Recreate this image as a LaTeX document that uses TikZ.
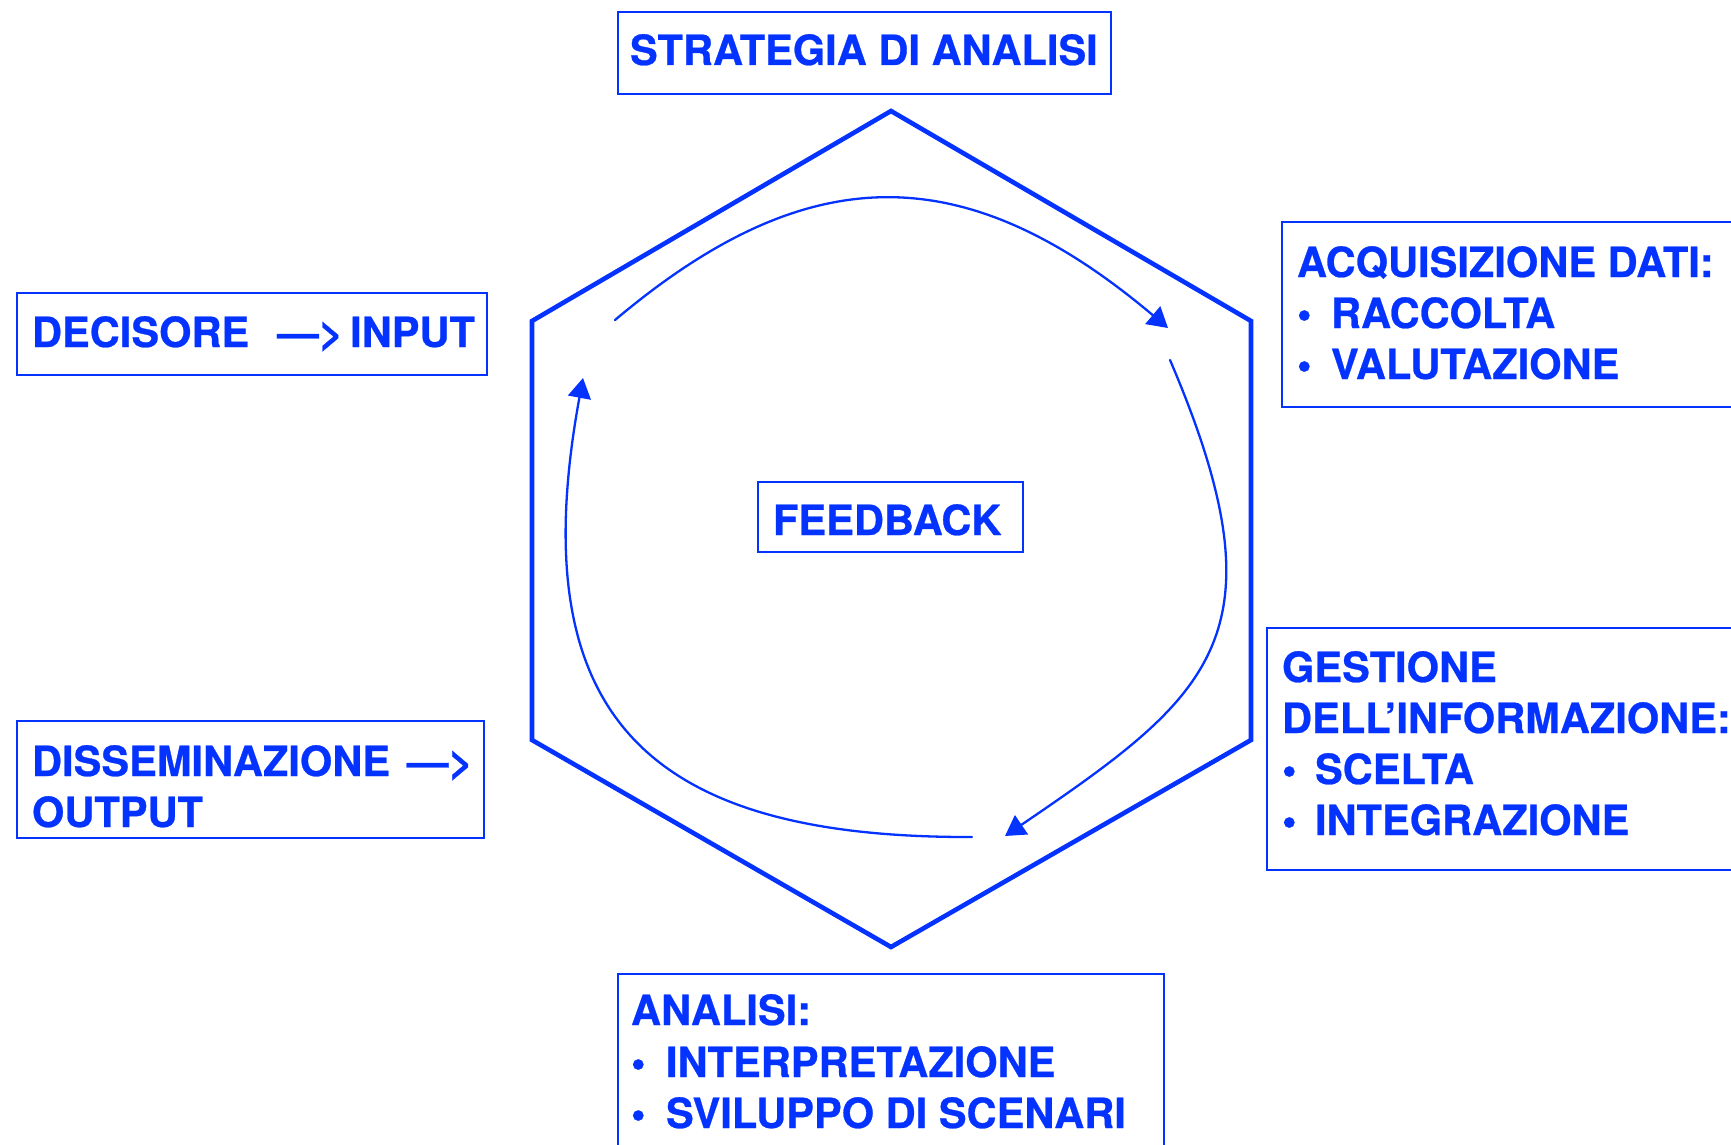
\documentclass[tikz,border=0pt]{standalone}
\usepackage{fontspec}
\setmainfont{TeX Gyre Heros}[BoldFeatures={FakeBold=0.6}]
\usetikzlibrary{arrows.meta}
\definecolor{fb}{RGB}{4,51,255}
\begin{document}
\begin{tikzpicture}[x=1pt,y=-1pt,
  box/.style={draw=fb, line width=2.2pt, rectangle, inner sep=0pt, outer sep=0pt, anchor=north west},
  txt/.style={text=fb, font=\fontsize{41.6}{51}\selectfont\bfseries, inner sep=0pt, outer sep=0pt, anchor=base west},
  hexa/.style={draw=fb, line width=4.6pt, line join=miter},
  cyc/.style={draw=fb, line width=2.3pt, line cap=round, -{Triangle[length=20pt,width=23pt]}}]
\useasboundingbox (0,0) rectangle (1731,1145);
\clip (0,0) rectangle (1731,1145);

% hexagon
\coordinate (h1) at (891,111);
\coordinate (h2) at (1251,321);
\coordinate (h3) at (1251,740);
\coordinate (h4) at (891,947);
\coordinate (h5) at (532,740);
\coordinate (h6) at (532,321);
\draw[hexa] (h1) -- (h2) -- (h3) -- (h4) -- (h5) -- (h6) -- cycle;

% boxes
\node[box, minimum width=493pt, minimum height=82pt] (bstrat) at (618,12) {};
\node[box, minimum width=520pt, minimum height=185pt] (bacq) at (1282,222) {};
\node[box, minimum width=520pt, minimum height=242pt] (bgest) at (1267,628) {};
\node[box, minimum width=546pt, minimum height=240pt] (banal) at (618,974) {};
\node[box, minimum width=470pt, minimum height=82pt] (bdec) at (17,293) {};
\node[box, minimum width=467pt, minimum height=117pt] (bdiss) at (17,721) {};
\node[box, minimum width=265pt, minimum height=70pt] (bfeed) at (758,482) {};

% texts
\node[txt] (tstrat) at (630,65) {STRATEGIA DI ANALISI};

\node[txt] (tacq) at (1297,277) {ACQUISIZIONE DATI:};
\node[txt] (tacqb1) at (1297,328) {•};
\node[txt] (tacq1) at (1331,328) {RACCOLTA};
\node[txt] (tacqb2) at (1297,379) {•};
\node[txt] (tacq2) at (1331,379) {VALUTAZIONE};

\node[txt] (tgest) at (1282,682) {GESTIONE};
\node[txt] (tgest0) at (1282,733) {DELL’INFORMAZIONE:};
\node[txt] (tgestb1) at (1282,784) {•};
\node[txt] (tgest1) at (1315,784) {SCELTA};
\node[txt] (tgestb2) at (1282,835) {•};
\node[txt] (tgest2) at (1315,835) {INTEGRAZIONE};

\node[txt] (tanal) at (631,1025) {ANALISI:};
\node[txt] (tanalb1) at (631,1077) {•};
\node[txt] (tanal1) at (666,1077) {INTERPRETAZIONE};
\node[txt] (tanalb2) at (631,1128) {•};
\node[txt] (tanal2) at (666,1128) {SVILUPPO DI SCENARI};

\node[txt] (tdec) at (32,347) {DECISORE\hspace{28pt}—>\hspace{7pt}INPUT};
\node[txt] (tdiss) at (32,776) {DISSEMINAZIONE\hspace{17pt}—>};
\node[txt] (tdiss2) at (32,827) {OUTPUT};

\node[txt] (tfeed) at (773,535) {FEEDBACK};

% cycle arrows
\coordinate (a1s) at (615,320);
\coordinate (a1e) at (1168,328);
\coordinate (a2s) at (1170,360);
\coordinate (a2e) at (1005,836);
\coordinate (a3s) at (972,837);
\coordinate (a3e) at (583,378);
\draw[cyc] (a1s) .. controls (806,159) and (963,155) .. (a1e);
\draw[cyc] (a2s) .. controls (1288,636) and (1212,695) .. (a2e);
\draw[cyc] (a3s) .. controls (652,838) and (520,721) .. (a3e);
\end{tikzpicture}
\end{document}
